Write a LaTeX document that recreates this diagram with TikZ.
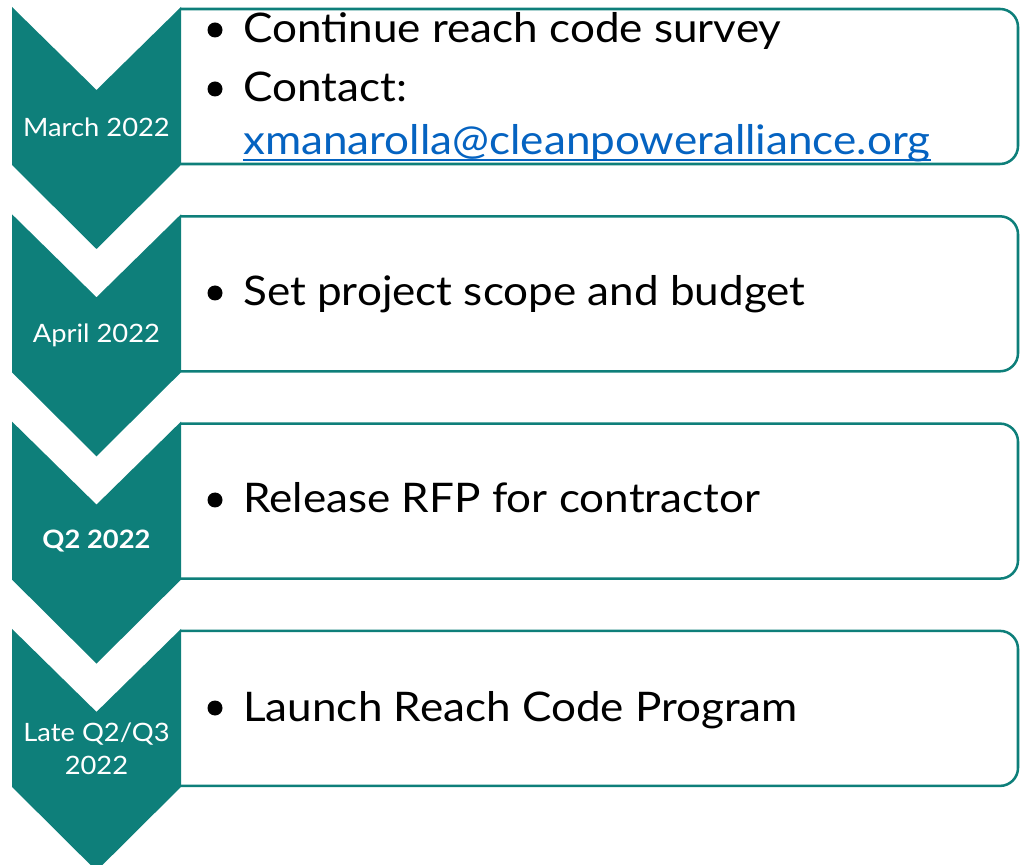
\documentclass[tikz,border=0pt]{standalone}
\usepackage{fontspec}
\setmainfont{Lato}[FakeStretch=1.08]
\usepackage{tikz}
\usetikzlibrary{positioning}

\definecolor{chevteal}{RGB}{14,127,122}
\definecolor{maillink}{RGB}{5,99,193}

\begin{document}
\begin{tikzpicture}[x=0.025cm,y=-0.025cm]
    \tikzset{
        chevron/.style={fill=chevteal},
        stepframe/.style={draw=chevteal, line width=1.8pt, rounded corners=0.45cm},
        datelabel/.style={text=white, align=center, font=\fontsize{18}{23.5}\selectfont},
        itemtext/.style={anchor=base west, inner sep=0pt, font=\fontsize{29}{37}\selectfont}
    }
    \useasboundingbox (0,0) rectangle (1020,865);
    \clip (0,0) rectangle (1020,865);
    % frames first, chevrons on top of their left ends
    \foreach \t in {7,214.3,421.6,628.9}{
        \draw[stepframe] (181,\t+2) -- (1018,\t+2) -- (1018,\t+157) -- (181,\t+157);
        \fill[chevron] (12,\t) -- (96.5,\t+83) -- (181,\t) -- (181,\t+158)
            -- (96.5,\t+242) -- (12,\t+158) -- cycle;
    }
    \node[datelabel] (march) at (96.5,127) {March 2022};
    \node[datelabel] (april) at (96.5,335) {April 2022};
    \node[datelabel, font=\bfseries\fontsize{18}{23.5}\selectfont] (q2) at (96.5,541) {Q2 2022};
    \node[datelabel] (late) at (96.5,749) {Late Q2/Q3\\2022};
    % items
    \node[itemtext] (survey) at (243,43) {Continue reach code survey};
    \node[itemtext] (contact) at (243,102) {Contact:};
    \node[itemtext, text=maillink] (mail) at (243,155) {xmanarolla@cleanpoweralliance.org};
    \draw[maillink, line width=0.9pt] ([yshift=-3.5pt]mail.base west) -- ([yshift=-3.5pt]mail.base east);
    \node[itemtext] (scope) at (243,306) {Set project scope and budget};
    \node[itemtext] (rfp) at (243,513) {Release RFP for contractor};
    \node[itemtext] (launch) at (243,721) {Launch Reach Code Program};
    % bullets
    \foreach \n in {survey,contact,scope,rfp,launch}
        \fill (\n.base west) ++(-28,-13) circle (7.5);
\end{tikzpicture}
\end{document}
